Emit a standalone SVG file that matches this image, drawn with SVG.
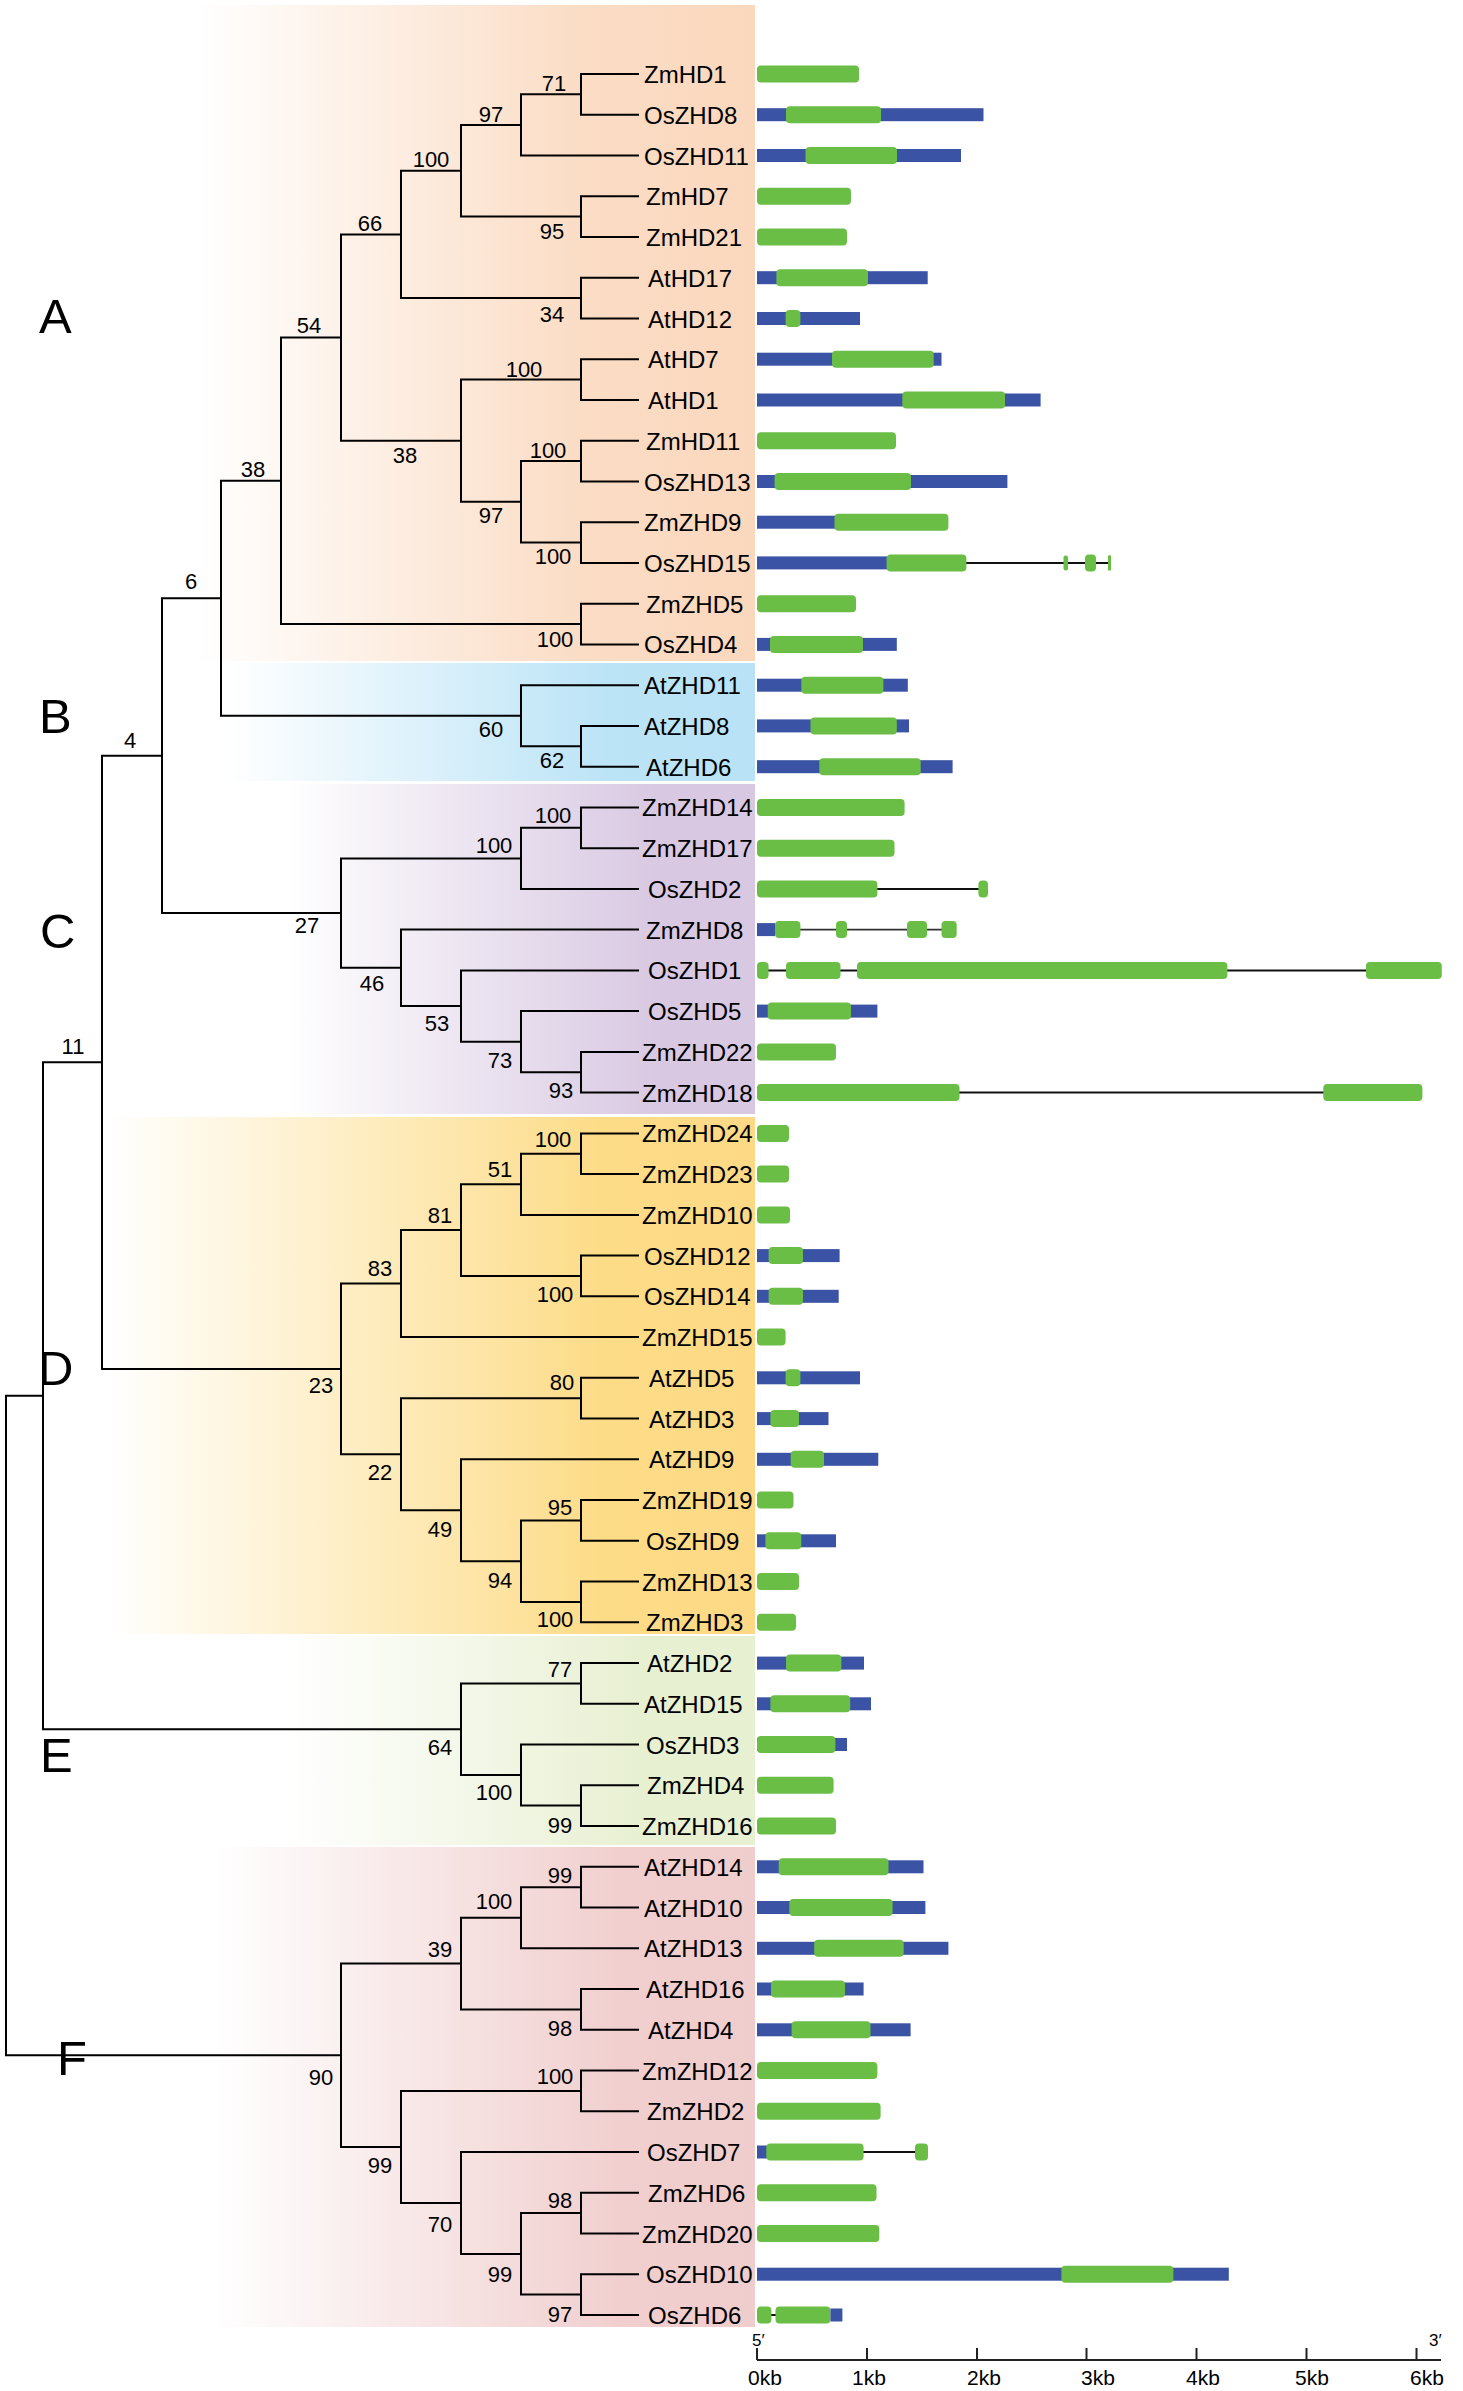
<svg xmlns="http://www.w3.org/2000/svg" width="1463" height="2391" viewBox="0 0 1463 2391">
<defs>
<style>
text{font-family:"Liberation Sans",Arial,sans-serif;fill:#000}
.lf{font-size:24px}
.bs{font-size:22px;text-anchor:middle}
.cl{font-size:49px}
.ax{font-size:21px;text-anchor:middle}
.pr{font-size:17px}
.br{fill:none;stroke:#000;stroke-width:2}
.g{fill:#6abd45}
.b{fill:#3a53a4}
.i{stroke:#111;stroke-width:2;fill:none}
.axl{stroke:#222;stroke-width:2;fill:none}
</style>
<linearGradient id="gA" x1="0" x2="1" y1="0" y2="0"><stop offset="0.26" stop-color="#fbdcc4" stop-opacity="0"/><stop offset="0.78" stop-color="#fbdcc4"/><stop offset="1" stop-color="#fad8be"/></linearGradient>
<linearGradient id="gB" x1="0" x2="1" y1="0" y2="0"><stop offset="0.3" stop-color="#bce4f7" stop-opacity="0"/><stop offset="0.8" stop-color="#bce4f7"/><stop offset="1" stop-color="#b9e2f6"/></linearGradient>
<linearGradient id="gC" x1="0" x2="1" y1="0" y2="0"><stop offset="0.38" stop-color="#d8c8e2" stop-opacity="0"/><stop offset="0.88" stop-color="#d8c8e2"/><stop offset="1" stop-color="#d8c8e2"/></linearGradient>
<linearGradient id="gD" x1="0" x2="1" y1="0" y2="0"><stop offset="0.14" stop-color="#fddc88" stop-opacity="0"/><stop offset="0.8" stop-color="#fddc88"/><stop offset="1" stop-color="#fdd985"/></linearGradient>
<linearGradient id="gE" x1="0" x2="1" y1="0" y2="0"><stop offset="0.38" stop-color="#e8f0d2" stop-opacity="0"/><stop offset="0.85" stop-color="#e8f0d2"/><stop offset="1" stop-color="#e8f0d2"/></linearGradient>
<linearGradient id="gF" x1="0" x2="1" y1="0" y2="0"><stop offset="0.28" stop-color="#f1cfcf" stop-opacity="0"/><stop offset="0.82" stop-color="#f1cfcf"/><stop offset="1" stop-color="#f0cdcd"/></linearGradient>
</defs>
<rect width="1463" height="2391" fill="#fff"/>
<g id="bands">
<rect x="0" y="5" width="755" height="656" fill="url(#gA)"/>
<rect x="0" y="663" width="755" height="118" fill="url(#gB)"/>
<rect x="0" y="784" width="755" height="330" fill="url(#gC)"/>
<rect x="0" y="1117" width="755" height="517" fill="url(#gD)"/>
<rect x="0" y="1636" width="755" height="209" fill="url(#gE)"/>
<rect x="0" y="1847" width="755" height="480" fill="url(#gF)"/>
</g>
<g id="connectors" class="br">
<path d="M639 74H581V114.7H639"/>
<path d="M581 94.35H521V155.5H639"/>
<path d="M639 196.2H581V237H639"/>
<path d="M521 124.9H461V216.6H581"/>
<path d="M639 277.7H581V318.5H639"/>
<path d="M461 170.8H401V298.1H581"/>
<path d="M639 359.2H581V400H639"/>
<path d="M639 440.7H581V481.5H639"/>
<path d="M639 522.2H581V562.9H639"/>
<path d="M581 461.1H521V542.6H581"/>
<path d="M581 379.6H461V501.8H521"/>
<path d="M401 234.4H341V440.7H461"/>
<path d="M639 603.7H581V644.4H639"/>
<path d="M341 337.5H281V624.1H581"/>
<path d="M639 725.9H581V766.7H639"/>
<path d="M639 685.2H521V746.3H581"/>
<path d="M281 480.8H221V715.7H521"/>
<path d="M639 807.4H581V848.2H639"/>
<path d="M581 827.8H521V888.9H639"/>
<path d="M639 1051.9H581V1092.6H639"/>
<path d="M639 1011.1H521V1072.3H581"/>
<path d="M639 970.4H461V1041.7H521"/>
<path d="M639 929.6H401V1006H461"/>
<path d="M521 858.4H341V967.8H401"/>
<path d="M221 598.3H162V913.1H341"/>
<path d="M639 1133.4H581V1174.1H639"/>
<path d="M581 1153.7H521V1214.9H639"/>
<path d="M639 1255.6H581V1296.3H639"/>
<path d="M521 1184.3H461V1276H581"/>
<path d="M461 1230.1H401V1337.1H639"/>
<path d="M639 1377.8H581V1418.6H639"/>
<path d="M639 1500.1H581V1540.8H639"/>
<path d="M639 1581.6H581V1622.3H639"/>
<path d="M581 1520.5H521V1602H581"/>
<path d="M639 1459.3H461V1561.2H521"/>
<path d="M581 1398.2H401V1510.3H461"/>
<path d="M401 1283.6H341V1454.2H401"/>
<path d="M162 755.7H102V1368.9H341"/>
<path d="M639 1663.1H581V1703.8H639"/>
<path d="M639 1785.3H581V1826H639"/>
<path d="M639 1744.5H521V1805.6H581"/>
<path d="M581 1683.4H461V1775.1H521"/>
<path d="M102 1062.3H43V1729.3H461"/>
<path d="M639 1866.8H581V1907.5H639"/>
<path d="M581 1887.2H521V1948.3H639"/>
<path d="M639 1989H581V2029.8H639"/>
<path d="M521 1917.7H461V2009.4H581"/>
<path d="M639 2070.5H581V2111.3H639"/>
<path d="M639 2192.7H581V2233.5H639"/>
<path d="M639 2274.2H581V2315H639"/>
<path d="M581 2213.1H521V2294.6H581"/>
<path d="M639 2152H461V2253.9H521"/>
<path d="M581 2090.9H401V2203H461"/>
<path d="M461 1963.6H341V2147H401"/>
<path d="M43 1395.8H6V2055.3H341"/>
</g>
<g id="bootstrap" class="bs">
<text x="554" y="91">71</text>
<text x="491" y="122">97</text>
<text x="431" y="167">100</text>
<text x="552" y="239">95</text>
<text x="370" y="231">66</text>
<text x="552" y="322">34</text>
<text x="309" y="333">54</text>
<text x="524" y="377">100</text>
<text x="405" y="463">38</text>
<text x="548" y="458">100</text>
<text x="253" y="477">38</text>
<text x="491" y="523">97</text>
<text x="553" y="564">100</text>
<text x="191" y="589">6</text>
<text x="555" y="647">100</text>
<text x="491" y="737">60</text>
<text x="552" y="768">62</text>
<text x="130" y="748">4</text>
<text x="553" y="823">100</text>
<text x="494" y="853">100</text>
<text x="307" y="933">27</text>
<text x="372" y="991">46</text>
<text x="437" y="1031">53</text>
<text x="500" y="1068">73</text>
<text x="561" y="1098">93</text>
<text x="73" y="1054">11</text>
<text x="553" y="1147">100</text>
<text x="500" y="1177">51</text>
<text x="440" y="1223">81</text>
<text x="380" y="1276">83</text>
<text x="555" y="1302">100</text>
<text x="321" y="1393">23</text>
<text x="562" y="1390">80</text>
<text x="380" y="1480">22</text>
<text x="560" y="1515">95</text>
<text x="440" y="1537">49</text>
<text x="500" y="1588">94</text>
<text x="555" y="1627">100</text>
<text x="560" y="1677">77</text>
<text x="440" y="1755">64</text>
<text x="494" y="1800">100</text>
<text x="560" y="1833">99</text>
<text x="560" y="1883">99</text>
<text x="494" y="1909">100</text>
<text x="440" y="1957">39</text>
<text x="560" y="2036">98</text>
<text x="321" y="2085">90</text>
<text x="555" y="2084">100</text>
<text x="380" y="2173">99</text>
<text x="560" y="2208">98</text>
<text x="440" y="2232">70</text>
<text x="500" y="2282">99</text>
<text x="560" y="2322">97</text>
</g>
<g id="clades" class="cl">
<text x="39" y="333">A</text>
<text x="39" y="733">B</text>
<text x="40" y="948">C</text>
<text x="38" y="1385">D</text>
<text x="40" y="1772">E</text>
<text x="57" y="2075">F</text>
</g>
<g id="leaves">
<g id="ZmHD1" transform="translate(0,74)"><text class="lf" x="644" y="9">ZmHD1</text><rect class="g" x="757" y="-8.5" width="102" height="17" rx="4"/></g>
<g id="OsZHD8" transform="translate(0,114.7)"><text class="lf" x="644" y="9">OsZHD8</text><rect class="b" x="757" y="-6.5" width="226.5" height="13"/><rect class="g" x="786" y="-8.5" width="95" height="17" rx="4"/></g>
<g id="OsZHD11" transform="translate(0,155.5)"><text class="lf" x="644" y="9">OsZHD11</text><rect class="b" x="757" y="-6.5" width="204" height="13"/><rect class="g" x="805.5" y="-8.5" width="91.5" height="17" rx="4"/></g>
<g id="ZmHD7" transform="translate(0,196.2)"><text class="lf" x="646" y="9">ZmHD7</text><rect class="g" x="757" y="-8.5" width="94" height="17" rx="4"/></g>
<g id="ZmHD21" transform="translate(0,237)"><text class="lf" x="646" y="9">ZmHD21</text><rect class="g" x="757" y="-8.5" width="90" height="17" rx="4"/></g>
<g id="AtHD17" transform="translate(0,277.7)"><text class="lf" x="648" y="9">AtHD17</text><rect class="b" x="757" y="-6.5" width="170.7" height="13"/><rect class="g" x="776.4" y="-8.5" width="91.6" height="17" rx="4"/></g>
<g id="AtHD12" transform="translate(0,318.5)"><text class="lf" x="648" y="9">AtHD12</text><rect class="b" x="757" y="-6.5" width="103" height="13"/><rect class="g" x="785.6" y="-8.5" width="14.8" height="17" rx="4"/></g>
<g id="AtHD7" transform="translate(0,359.2)"><text class="lf" x="648" y="9">AtHD7</text><rect class="b" x="757" y="-6.5" width="184.5" height="13"/><rect class="g" x="832" y="-8.5" width="101.7" height="17" rx="4"/></g>
<g id="AtHD1" transform="translate(0,400)"><text class="lf" x="648" y="9">AtHD1</text><rect class="b" x="757" y="-6.5" width="283.6" height="13"/><rect class="g" x="902.3" y="-8.5" width="102.7" height="17" rx="4"/></g>
<g id="ZmHD11" transform="translate(0,440.7)"><text class="lf" x="646" y="9">ZmHD11</text><rect class="g" x="757" y="-8.5" width="139" height="17" rx="4"/></g>
<g id="OsZHD13" transform="translate(0,481.5)"><text class="lf" x="644" y="9">OsZHD13</text><rect class="b" x="757" y="-6.5" width="250.4" height="13"/><rect class="g" x="774.6" y="-8.5" width="136.4" height="17" rx="4"/></g>
<g id="ZmZHD9" transform="translate(0,522.2)"><text class="lf" x="644" y="9">ZmZHD9</text><rect class="b" x="757" y="-6.5" width="78" height="13"/><rect class="g" x="834.5" y="-8.5" width="113.9" height="17" rx="4"/></g>
<g id="OsZHD15" transform="translate(0,562.9)"><text class="lf" x="644" y="9">OsZHD15</text><path class="i" d="M966 0H1110"/><rect class="b" x="757" y="-6.5" width="130" height="13"/><rect class="g" x="886.6" y="-8.5" width="79.8" height="17" rx="4"/><rect class="g" x="1063.5" y="-7.5" width="4.5" height="15" rx="2"/><rect class="g" x="1085" y="-8.5" width="11" height="17" rx="4"/><rect class="g" x="1108" y="-7.5" width="3" height="15"/></g>
<g id="ZmZHD5" transform="translate(0,603.7)"><text class="lf" x="646" y="9">ZmZHD5</text><rect class="g" x="757" y="-8.5" width="99" height="17" rx="4"/></g>
<g id="OsZHD4" transform="translate(0,644.4)"><text class="lf" x="644" y="9">OsZHD4</text><rect class="b" x="757" y="-6.5" width="139.8" height="13"/><rect class="g" x="770" y="-8.5" width="93" height="17" rx="4"/></g>
<g id="AtZHD11" transform="translate(0,685.2)"><text class="lf" x="644" y="9">AtZHD11</text><rect class="b" x="757" y="-6.5" width="150.8" height="13"/><rect class="g" x="801.3" y="-8.5" width="82.1" height="17" rx="4"/></g>
<g id="AtZHD8" transform="translate(0,725.9)"><text class="lf" x="644" y="9">AtZHD8</text><rect class="b" x="757" y="-6.5" width="152" height="13"/><rect class="g" x="810.5" y="-8.5" width="86.3" height="17" rx="4"/></g>
<g id="AtZHD6" transform="translate(0,766.7)"><text class="lf" x="646" y="9">AtZHD6</text><rect class="b" x="757" y="-6.5" width="195.6" height="13"/><rect class="g" x="819.3" y="-8.5" width="101.4" height="17" rx="4"/></g>
<g id="ZmZHD14" transform="translate(0,807.4)"><text class="lf" x="642" y="9">ZmZHD14</text><rect class="g" x="757" y="-8.5" width="147.6" height="17" rx="4"/></g>
<g id="ZmZHD17" transform="translate(0,848.2)"><text class="lf" x="642" y="9">ZmZHD17</text><rect class="g" x="757" y="-8.5" width="137.5" height="17" rx="4"/></g>
<g id="OsZHD2" transform="translate(0,888.9)"><text class="lf" x="648" y="9">OsZHD2</text><path class="i" d="M877 0H979"/><rect class="g" x="757" y="-8.5" width="120.4" height="17" rx="4"/><rect class="g" x="978.4" y="-8.5" width="9.6" height="17" rx="4"/></g>
<g id="ZmZHD8" transform="translate(0,929.6)"><text class="lf" x="646" y="9">ZmZHD8</text><path class="i" d="M800 0H942" style="stroke-width:1.6;stroke:#333"/><rect class="b" x="757" y="-6.5" width="18" height="13"/><rect class="g" x="775" y="-8.5" width="25.4" height="17" rx="4"/><rect class="g" x="836" y="-8.5" width="11" height="17" rx="4"/><rect class="g" x="907" y="-8.5" width="20" height="17" rx="4"/><rect class="g" x="941.5" y="-8.5" width="15.2" height="17" rx="4"/></g>
<g id="OsZHD1" transform="translate(0,970.4)"><text class="lf" x="648" y="9">OsZHD1</text><path class="i" d="M768 0H1366"/><rect class="g" x="757" y="-8.5" width="11.6" height="17" rx="4"/><rect class="g" x="786" y="-8.5" width="54.5" height="17" rx="4"/><rect class="g" x="857" y="-8.5" width="370.4" height="17" rx="4"/><rect class="g" x="1366" y="-8.5" width="75.8" height="17" rx="4"/></g>
<g id="OsZHD5" transform="translate(0,1011.1)"><text class="lf" x="648" y="9">OsZHD5</text><rect class="b" x="757" y="-6.5" width="120.4" height="13"/><rect class="g" x="767.7" y="-8.5" width="83.3" height="17" rx="4"/></g>
<g id="ZmZHD22" transform="translate(0,1051.9)"><text class="lf" x="642" y="9">ZmZHD22</text><rect class="g" x="757" y="-8.5" width="79" height="17" rx="4"/></g>
<g id="ZmZHD18" transform="translate(0,1092.6)"><text class="lf" x="642" y="9">ZmZHD18</text><path class="i" d="M959 0H1324"/><rect class="g" x="757" y="-8.5" width="202.5" height="17" rx="4"/><rect class="g" x="1323.3" y="-8.5" width="99.1" height="17" rx="4"/></g>
<g id="ZmZHD24" transform="translate(0,1133.4)"><text class="lf" x="642" y="9">ZmZHD24</text><rect class="g" x="757" y="-8.5" width="32" height="17" rx="4"/></g>
<g id="ZmZHD23" transform="translate(0,1174.1)"><text class="lf" x="642" y="9">ZmZHD23</text><rect class="g" x="757" y="-8.5" width="32" height="17" rx="4"/></g>
<g id="ZmZHD10" transform="translate(0,1214.9)"><text class="lf" x="642" y="9">ZmZHD10</text><rect class="g" x="757" y="-8.5" width="33" height="17" rx="4"/></g>
<g id="OsZHD12" transform="translate(0,1255.6)"><text class="lf" x="644" y="9">OsZHD12</text><rect class="b" x="757" y="-6.5" width="82.6" height="13"/><rect class="g" x="768.6" y="-8.5" width="34.4" height="17" rx="4"/></g>
<g id="OsZHD14" transform="translate(0,1296.3)"><text class="lf" x="644" y="9">OsZHD14</text><rect class="b" x="757" y="-6.5" width="81.7" height="13"/><rect class="g" x="768.6" y="-8.5" width="34.4" height="17" rx="4"/></g>
<g id="ZmZHD15" transform="translate(0,1337.1)"><text class="lf" x="642" y="9">ZmZHD15</text><rect class="g" x="757" y="-8.5" width="28.6" height="17" rx="4"/></g>
<g id="AtZHD5" transform="translate(0,1377.8)"><text class="lf" x="649" y="9">AtZHD5</text><rect class="b" x="757" y="-6.5" width="103" height="13"/><rect class="g" x="785.6" y="-8.5" width="14.8" height="17" rx="4"/></g>
<g id="AtZHD3" transform="translate(0,1418.6)"><text class="lf" x="649" y="9">AtZHD3</text><rect class="b" x="757" y="-6.5" width="71.5" height="13"/><rect class="g" x="770.4" y="-8.5" width="28.6" height="17" rx="4"/></g>
<g id="AtZHD9" transform="translate(0,1459.3)"><text class="lf" x="649" y="9">AtZHD9</text><rect class="b" x="757" y="-6.5" width="121.3" height="13"/><rect class="g" x="790.7" y="-8.5" width="33.3" height="17" rx="4"/></g>
<g id="ZmZHD19" transform="translate(0,1500.1)"><text class="lf" x="642" y="9">ZmZHD19</text><rect class="g" x="757" y="-8.5" width="36.5" height="17" rx="4"/></g>
<g id="OsZHD9" transform="translate(0,1540.8)"><text class="lf" x="646" y="9">OsZHD9</text><rect class="b" x="757" y="-6.5" width="79" height="13"/><rect class="g" x="765.4" y="-8.5" width="35.9" height="17" rx="4"/></g>
<g id="ZmZHD13" transform="translate(0,1581.6)"><text class="lf" x="642" y="9">ZmZHD13</text><rect class="g" x="757" y="-8.5" width="42" height="17" rx="4"/></g>
<g id="ZmZHD3" transform="translate(0,1622.3)"><text class="lf" x="646" y="9">ZmZHD3</text><rect class="g" x="757" y="-8.5" width="39" height="17" rx="4"/></g>
<g id="AtZHD2" transform="translate(0,1663.1)"><text class="lf" x="647" y="9">AtZHD2</text><rect class="b" x="757" y="-6.5" width="107" height="13"/><rect class="g" x="786" y="-8.5" width="55.4" height="17" rx="4"/></g>
<g id="AtZHD15" transform="translate(0,1703.8)"><text class="lf" x="644" y="9">AtZHD15</text><rect class="b" x="757" y="-6.5" width="114" height="13"/><rect class="g" x="770.4" y="-8.5" width="79.8" height="17" rx="4"/></g>
<g id="OsZHD3" transform="translate(0,1744.5)"><text class="lf" x="646" y="9">OsZHD3</text><rect class="b" x="757" y="-6.5" width="90" height="13"/><rect class="g" x="757" y="-8.5" width="78.4" height="17" rx="4"/></g>
<g id="ZmZHD4" transform="translate(0,1785.3)"><text class="lf" x="647" y="9">ZmZHD4</text><rect class="g" x="757" y="-8.5" width="76.6" height="17" rx="4"/></g>
<g id="ZmZHD16" transform="translate(0,1826)"><text class="lf" x="642" y="9">ZmZHD16</text><rect class="g" x="757" y="-8.5" width="79" height="17" rx="4"/></g>
<g id="AtZHD14" transform="translate(0,1866.8)"><text class="lf" x="644" y="9">AtZHD14</text><rect class="b" x="757" y="-6.5" width="166.5" height="13"/><rect class="g" x="778.7" y="-8.5" width="109.8" height="17" rx="4"/></g>
<g id="AtZHD10" transform="translate(0,1907.5)"><text class="lf" x="644" y="9">AtZHD10</text><rect class="b" x="757" y="-6.5" width="168.4" height="13"/><rect class="g" x="789.3" y="-8.5" width="103.3" height="17" rx="4"/></g>
<g id="AtZHD13" transform="translate(0,1948.3)"><text class="lf" x="644" y="9">AtZHD13</text><rect class="b" x="757" y="-6.5" width="191.4" height="13"/><rect class="g" x="814.2" y="-8.5" width="89.5" height="17" rx="4"/></g>
<g id="AtZHD16" transform="translate(0,1989)"><text class="lf" x="646" y="9">AtZHD16</text><rect class="b" x="757" y="-6.5" width="106.6" height="13"/><rect class="g" x="771" y="-8.5" width="74" height="17" rx="4"/></g>
<g id="AtZHD4" transform="translate(0,2029.8)"><text class="lf" x="648" y="9">AtZHD4</text><rect class="b" x="757" y="-6.5" width="153.6" height="13"/><rect class="g" x="791.6" y="-8.5" width="78.9" height="17" rx="4"/></g>
<g id="ZmZHD12" transform="translate(0,2070.5)"><text class="lf" x="642" y="9">ZmZHD12</text><rect class="g" x="757" y="-8.5" width="120.4" height="17" rx="4"/></g>
<g id="ZmZHD2" transform="translate(0,2111.3)"><text class="lf" x="647" y="9">ZmZHD2</text><rect class="g" x="757" y="-8.5" width="123.6" height="17" rx="4"/></g>
<g id="OsZHD7" transform="translate(0,2152)"><text class="lf" x="647" y="9">OsZHD7</text><path class="i" d="M863 0H916"/><rect class="b" x="757" y="-6.5" width="10" height="13"/><rect class="g" x="766.3" y="-8.5" width="97.3" height="17" rx="4"/><rect class="g" x="915" y="-8.5" width="13" height="17" rx="4"/></g>
<g id="ZmZHD6" transform="translate(0,2192.7)"><text class="lf" x="648" y="9">ZmZHD6</text><rect class="g" x="757" y="-8.5" width="119.5" height="17" rx="4"/></g>
<g id="ZmZHD20" transform="translate(0,2233.5)"><text class="lf" x="642" y="9">ZmZHD20</text><rect class="g" x="757" y="-8.5" width="122.3" height="17" rx="4"/></g>
<g id="OsZHD10" transform="translate(0,2274.2)"><text class="lf" x="646" y="9">OsZHD10</text><rect class="b" x="757" y="-6.5" width="471.8" height="13"/><rect class="g" x="1061.4" y="-8.5" width="112" height="17" rx="4"/></g>
<g id="OsZHD6" transform="translate(0,2315)"><text class="lf" x="648" y="9">OsZHD6</text><path class="i" d="M770 0H777"/><rect class="g" x="757" y="-8.5" width="14.4" height="17" rx="4"/><rect class="g" x="775.5" y="-8.5" width="54.9" height="17" rx="4"/><rect class="b" x="830.4" y="-6.5" width="12" height="13"/></g>
</g>
<g id="axis">
<path class="axl" d="M757 2360H1441M757 2348V2360M867 2348V2360M977 2348V2360M1086.5 2348V2360M1196.5 2348V2360M1306.5 2348V2360M1416.5 2348V2360"/>
<text class="pr" x="752" y="2346">5′</text>
<text class="pr" x="1429" y="2346">3′</text>
<text class="ax" x="765" y="2385">0kb</text>
<text class="ax" x="869" y="2385">1kb</text>
<text class="ax" x="984" y="2385">2kb</text>
<text class="ax" x="1098" y="2385">3kb</text>
<text class="ax" x="1203" y="2385">4kb</text>
<text class="ax" x="1312" y="2385">5kb</text>
<text class="ax" x="1427" y="2385">6kb</text>
</g>
</svg>
